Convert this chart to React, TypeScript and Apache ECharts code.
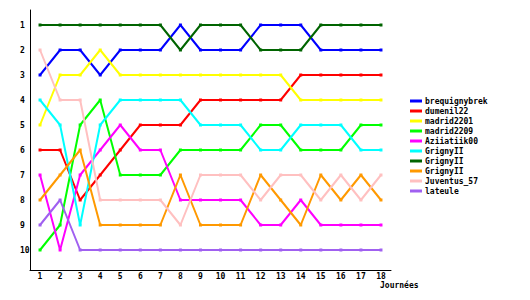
import React, { useEffect, useRef } from "react";
import * as echarts from "echarts";

const journees = ["1","2","3","4","5","6","7","8","9","10","11","12","13","14","15","16","17","18"];
const rankTicks = [1, 2, 3, 4, 5, 6, 7, 8, 9, 10];

const brequignybrek = [3,2,2,3,2,2,2,1,2,2,2,1,1,1,2,2,2,2];
const dumenil22     = [6,6,8,7,6,5,5,5,4,4,4,4,4,3,3,3,3,3];
const madrid2201    = [5,3,3,2,3,3,3,3,3,3,3,3,3,4,4,4,4,4];
const madrid2209    = [10,9,5,4,7,7,7,6,6,6,6,5,5,6,6,6,5,5];
const aziiatiik00   = [7,10,7,6,5,6,6,8,8,8,8,9,9,8,9,9,9,9];
const grigny1       = [4,5,9,5,4,4,4,4,5,5,5,6,6,5,5,5,6,6];
const grigny2       = [1,1,1,1,1,1,1,2,1,1,1,2,2,2,1,1,1,1];
const grigny3       = [8,7,6,9,9,9,9,7,9,9,9,7,8,9,7,8,7,8];
const juventus57    = [2,4,4,8,8,8,8,9,7,7,7,8,7,7,8,7,8,7];
const lateule       = [9,8,10,10,10,10,10,10,10,10,10,10,10,10,10,10,10,10];

const seriesNames = ["brequignybrek","dumenil22","madrid2201","madrid2209","Aziiatiik00","GrignyII#1","GrignyII#2","GrignyII#3","Juventus_57","lateule"];
const seriesData = [brequignybrek, dumenil22, madrid2201, madrid2209, aziiatiik00, grigny1, grigny2, grigny3, juventus57, lateule];
const seriesColors = ["#0000ff","#ff0000","#ffff00","#00ff00","#ff00ff","#00ffff","#006400","#ff9900","#ffc0c0","#a060f0"];

const FONT = "DejaVu Sans Mono";

export default function App() {
  const ref = useRef<HTMLDivElement>(null);
  useEffect(() => {
    if (!ref.current) return;
    const chart = echarts.init(ref.current, null, { renderer: "svg" });
    chart.setOption({
      animation: false,
      backgroundColor: "#ffffff",
      textStyle: { fontFamily: FONT, fontSize: 8, color: "#000" },
      grid: { left: 30, top: 10, width: 361, height: 260, containLabel: false },
      legend: {
        orient: "vertical",
        left: 410,
        top: 96,
        icon: "rect",
        itemWidth: 12,
        itemHeight: 3,
        itemGap: 0,
        padding: 0,
        textStyle: { fontFamily: FONT, fontSize: 8, fontWeight: "bold", color: "#000", lineHeight: 10, padding: [3, 0, -3, -2] },
        formatter: (n: string) => n.replace(/#\d$/, ""),
        data: seriesNames,
      },
      xAxis: {
        type: "category",
        data: journees,
        boundaryGap: true,
        axisLine: { show: true, lineStyle: { color: "#000", width: 1 } },
        axisTick: { show: false },
        axisLabel: { margin: 2, fontFamily: FONT, fontSize: 8, fontWeight: "bold", color: "#000" },
        splitLine: { show: false },
      },
      yAxis: {
        type: "value",
        inverse: true,
        min: 0.4,
        max: 10.8,
        axisLine: { show: true, lineStyle: { color: "#000", width: 1 } },
        axisTick: { show: false },
        axisLabel: { customValues: rankTicks, align: "left", margin: 10, fontFamily: FONT, fontSize: 8, fontWeight: "bold", color: "#000" },
        splitLine: { show: false },
      },
      graphic: [
        { type: "text", x: 380, y: 285, style: { text: "Journées", fontFamily: FONT, fontSize: 8, fontWeight: "bold", fill: "#000", verticalAlign: "middle" } },
      ],
      series: seriesNames.map((name, i) => ({
        name,
        type: "line",
        data: seriesData[i],
        color: seriesColors[i],
        symbol: "rect",
        symbolSize: 3,
        showSymbol: true,
        lineStyle: { width: 2, color: seriesColors[i] },
        itemStyle: { color: seriesColors[i] },
      })),
    });
    return () => chart.dispose();
  }, []);
  return <div ref={ref} style={{ width: 530, height: 300, position: "absolute", left: 0, top: 0 }} />;
}
